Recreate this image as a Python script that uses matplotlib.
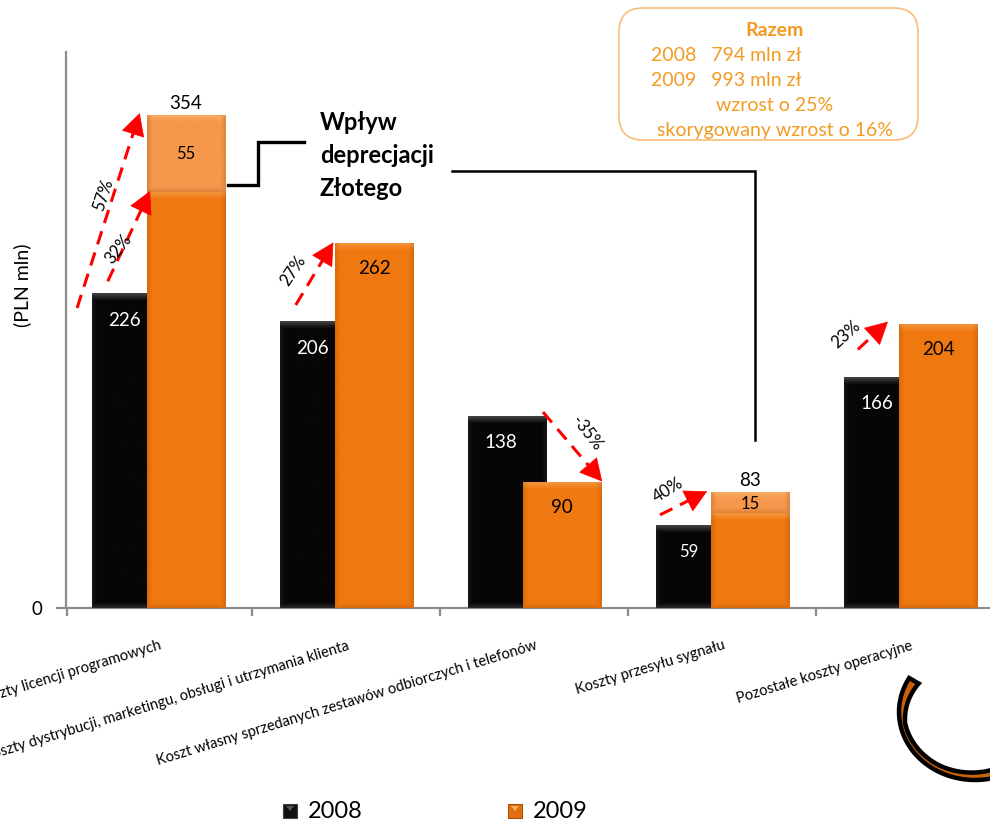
import numpy as np
import matplotlib
matplotlib.use("Agg")
import matplotlib.pyplot as plt
from matplotlib.patches import FancyArrowPatch, FancyBboxPatch, Rectangle, Polygon

plt.rcParams['font.family'] = ['Lato', 'DejaVu Sans']

# ---- data -------------------------------------------------------------
categories = [
    "Koszty licencji programowych",
    "Koszty dystrybucji, marketingu, obsługi i utrzymania klienta",
    "Koszt własny sprzedanych zestawów odbiorczych i telefonów",
    "Koszty przesyłu sygnału",
    "Pozostałe koszty operacyjne",
]
values_2008 = [226, 206, 138, 59, 166]
values_2009 = [354, 262, 90, 83, 204]
fx_impact_2009 = [55, 0, 0, 15, 0]          # part of 2009 caused by PLN depreciation
change_labels = ["57%", "27%", "-35%", "40%", "23%"]
adjusted_label = "32%"
years = ["2008", "2009"]
summary_lines = ["2008   794 mln zł", "2009   993 mln zł"]
summary_growth = ["wzrost o 25%", "skorygowany wzrost o 16%"]

# ---- styling ----------------------------------------------------------
W, H, DPI = 990, 824, 100
BLACK = np.array([6, 6, 6]) / 255
ORANGE = np.array([240, 120, 16]) / 255
LIGHT_ORANGE = np.array([245, 152, 75]) / 255
BOX_ORANGE = "#F39A21"
AXIS_GREY = "#8C8C8C"
ARROW_RED = "#FF0000"

fig = plt.figure(figsize=(W / DPI, H / DPI), dpi=DPI)
ax_left_px, ax_right_px, ax_top_px, ax_bot_px = 66, 990, 52, 608
ax = fig.add_axes([ax_left_px / W, (H - ax_bot_px) / H,
                   (ax_right_px - ax_left_px) / W, (ax_bot_px - ax_top_px) / H])

YMAX = 400
XMIN = -0.492
XMAX = XMIN + (ax_right_px - ax_left_px) / 188.0
px_per_unit_y = (ax_bot_px - ax_top_px) / YMAX
px_per_unit_x = 188.0

bar_w = 0.415
offset = 0.146


def bevel_bar(x_left, width, y0, y1, base, kind, z=3):
    """Draw a bar with a soft bevelled edge as a shaded image."""
    h = max(3, int(round((y1 - y0) * px_per_unit_y)))
    w = max(3, int(round(width * px_per_unit_x)))
    r = np.arange(h)[:, None] * np.ones((1, w))
    c = np.ones((h, 1)) * np.arange(w)[None, :]
    dt, db = r, h - 1 - r
    dl, dr = c, w - 1 - c
    img = np.ones((h, w, 3)) * base
    e = 7.0
    if kind == "dark":
        top = np.clip(1 - dt / e, 0, 1) * 0.45
        bot = np.clip(1 - db / 5.0, 0, 1) * 0.25
        side = np.clip(1 - np.minimum(dl, dr) / 5.0, 0, 1) * 0.12
        amt = np.maximum(np.maximum(top, bot), side)
        img = img * (1 - amt[..., None]) + np.array([0.55, 0.55, 0.55]) * amt[..., None]
    else:
        top = np.clip(1 - dt / e, 0, 1) * 0.35
        img = img * (1 - top[..., None]) + np.array([1.0, 0.78, 0.55]) * top[..., None]
        side = np.clip(1 - np.minimum(dl, dr) / 5.0, 0, 1) * 0.25
        bot = np.clip(1 - db / 5.0, 0, 1) * 0.25
        amt = np.maximum(side, bot)
        img = img * (1 - amt[..., None]) + np.array([0.6, 0.28, 0.02]) * amt[..., None]
    ax.imshow(np.clip(img, 0, 1), extent=(x_left, x_left + width, y0, y1),
              aspect="auto", origin="upper", zorder=z, interpolation="bilinear")


x = np.arange(len(categories))
for i in x:
    # 2008 bar
    xb = i - offset - bar_w / 2
    bevel_bar(xb, bar_w, 0, values_2008[i], BLACK, "dark", z=3)
    # 2009 bar (optionally split into base + FX impact)
    xo = i + offset - bar_w / 2
    base = values_2009[i] - fx_impact_2009[i]
    bevel_bar(xo, bar_w, 0, base, ORANGE, "light", z=4)
    if fx_impact_2009[i]:
        bevel_bar(xo, bar_w, base, values_2009[i], LIGHT_ORANGE, "light", z=4)

# value labels
for i in x:
    small = values_2008[i] < 100
    ax.text(i - 0.18, values_2008[i] - 19, str(values_2008[i]), color="white",
            ha="center", va="center", fontsize=12 if small else 13.5, zorder=6)
    if fx_impact_2009[i]:
        base = values_2009[i] - fx_impact_2009[i]
        ax.text(i + offset, values_2009[i] + 9, str(values_2009[i]), color="black",
                ha="center", va="center", fontsize=13.5, zorder=6)
        ax.text(i + offset, base + fx_impact_2009[i] / 2 - (1 if i == 3 else 0),
                str(fx_impact_2009[i]), color="black", ha="center", va="center",
                fontsize=12, zorder=6)
    else:
        ax.text(i + offset, values_2009[i] - 18, str(values_2009[i]), color="black",
                ha="center", va="center", fontsize=13.5, zorder=6)


# change arrows: dashed shaft plus a solid triangular head
HEAD_PX = 15.0


def dashed_arrow(p0, p1):
    dx = (p1[0] - p0[0]) * px_per_unit_x
    dy = (p1[1] - p0[1]) * px_per_unit_y
    n = np.hypot(dx, dy)
    ux, uy = dx / n, dy / n
    pm = (p1[0] - ux * HEAD_PX / px_per_unit_x, p1[1] - uy * HEAD_PX / px_per_unit_y)
    ax.plot([p0[0], pm[0]], [p0[1], pm[1]], color=ARROW_RED, lw=2.2,
            linestyle=(0, (4.5, 2.8)), zorder=7, clip_on=False, solid_capstyle="butt")
    ax.add_patch(FancyArrowPatch(pm, p1, arrowstyle="-|>,head_length=0.75,head_width=0.4",
                                 mutation_scale=20, color=ARROW_RED, lw=0.5,
                                 zorder=7, clip_on=False, shrinkA=0, shrinkB=0))


dashed_arrow((-0.433, values_2008[0] * 0.955), (-0.10, values_2009[0] + 2))
dashed_arrow((-0.27, values_2008[0] * 1.04), (-0.045, values_2009[0] - fx_impact_2009[0] + 1))
dashed_arrow((0.73, values_2008[1] + 12), (0.93, values_2009[1] + 1))
dashed_arrow((2.045, values_2008[2] + 3), (2.36, values_2009[2] + 1))
dashed_arrow((2.668, values_2008[3] + 8), (2.918, values_2009[3] + 1))
dashed_arrow((3.72, values_2008[4] + 20), (3.88, values_2009[4] + 2))

pct_style = dict(fontsize=12, color="black", ha="center", va="center", zorder=8)
ax.text(-0.295, 297, change_labels[0], rotation=72, **pct_style)
ax.text(-0.215, 258, adjusted_label, rotation=52, **pct_style)
ax.text(0.715, 243, change_labels[1], rotation=56, **pct_style)
ax.text(2.279, 126, change_labels[2], rotation=-52, **pct_style)
ax.text(2.71, 85, change_labels[3], rotation=32, **pct_style)
ax.text(3.657, 197, change_labels[4], rotation=42, **pct_style)

# axes
for s in ["top", "right"]:
    ax.spines[s].set_visible(False)
for s in ["left", "bottom"]:
    ax.spines[s].set_color(AXIS_GREY)
    ax.spines[s].set_linewidth(1.6)
ax.set_yticks([0])
ax.set_yticklabels(["0"], fontsize=13.5)
ax.tick_params(axis="y", length=7, width=1.6, color=AXIS_GREY, pad=10)
ax.set_xticks(x)
ax.set_xticklabels(categories, rotation=17, ha="right", rotation_mode="anchor",
                   fontsize=10.5)
ax.tick_params(axis="x", which="major", length=0, pad=22)
ax.set_xticks([XMIN + 0.004] + list(np.arange(0.5, len(categories) - 1)), minor=True)
ax.tick_params(axis="x", which="minor", length=6, width=1.6, color=AXIS_GREY)
ax.set_xlim(XMIN, XMAX)
ax.set_ylim(0, YMAX)
ax.patch.set_visible(False)

fig.text(22 / W, 1 - 285 / H, "(PLN mln)", rotation=90, ha="center", va="center",
         fontsize=14)

# ---- overlay in pixel space for callouts, summary box and legend ---------
ov = fig.add_axes([0, 0, 1, 1], zorder=10)
ov.set_xlim(0, W)
ov.set_ylim(H, 0)
ov.axis("off")
ov.patch.set_visible(False)

# FX depreciation callout
ov.plot([228, 258, 258, 304], [185, 185, 142, 142], color="black", lw=2.4,
        solid_joinstyle="miter")
ov.plot([452, 755, 755], [171, 171, 440], color="black", lw=1.8,
        solid_joinstyle="miter")
for k, line in enumerate(["Wpływ", "deprecjacji", "Złotego"]):
    ov.text(320, 122 + 33 * k, line, fontsize=17, fontweight="bold",
            ha="left", va="center", color="black")

# summary box
ov.add_patch(FancyBboxPatch((619, 8), 299, 132, boxstyle="round,pad=0,rounding_size=24",
                            fc="white", ec="#F8BE78", lw=1.2))
ov.text(775, 30, "Razem", fontsize=14, fontweight="bold", color=BOX_ORANGE,
        ha="center", va="center")
ov.text(651, 55, summary_lines[0], fontsize=14, color=BOX_ORANGE, ha="left", va="center")
ov.text(651, 80, summary_lines[1], fontsize=14, color=BOX_ORANGE, ha="left", va="center")
ov.text(775, 105, summary_growth[0], fontsize=14, color=BOX_ORANGE, ha="center", va="center")
ov.text(775, 130, summary_growth[1], fontsize=14, color=BOX_ORANGE, ha="center", va="center")

# legend
ov.add_patch(Rectangle((283, 804), 14, 14, fc="#111111", ec="#444444", lw=0.8))
ov.add_patch(Polygon([[286, 806], [294, 806], [290, 811]], fc="#555555", ec="none"))
ov.text(308, 812, years[0], fontsize=17, ha="left", va="center")
ov.add_patch(Rectangle((508, 804), 14, 14, fc="#E07010", ec="#A85008", lw=0.8))
ov.add_patch(Polygon([[511, 806], [519, 806], [515, 811]], fc="#F8B060", ec="none"))
ov.text(533, 812, years[1], fontsize=17, ha="left", va="center")

# decorative swoosh, bottom right
t = np.radians(np.linspace(60, 210, 80))
cx, cy, rx, ry = 975, 712, 76, 68
thick = np.interp(np.degrees(t), [60, 120, 170, 210], [9, 6, 5, 11])
outer = np.column_stack([cx + rx * np.cos(t), cy + ry * np.sin(t)])
inner = np.column_stack([cx + (rx - thick) * np.cos(t), cy + (ry - thick) * np.sin(t)])
ov.add_patch(Polygon(np.vstack([outer, inner[::-1]]), closed=True, fc="#C8620A",
                     ec="black", lw=3.2, joinstyle="miter", clip_on=False))

fig.savefig("out.png", dpi=DPI)
